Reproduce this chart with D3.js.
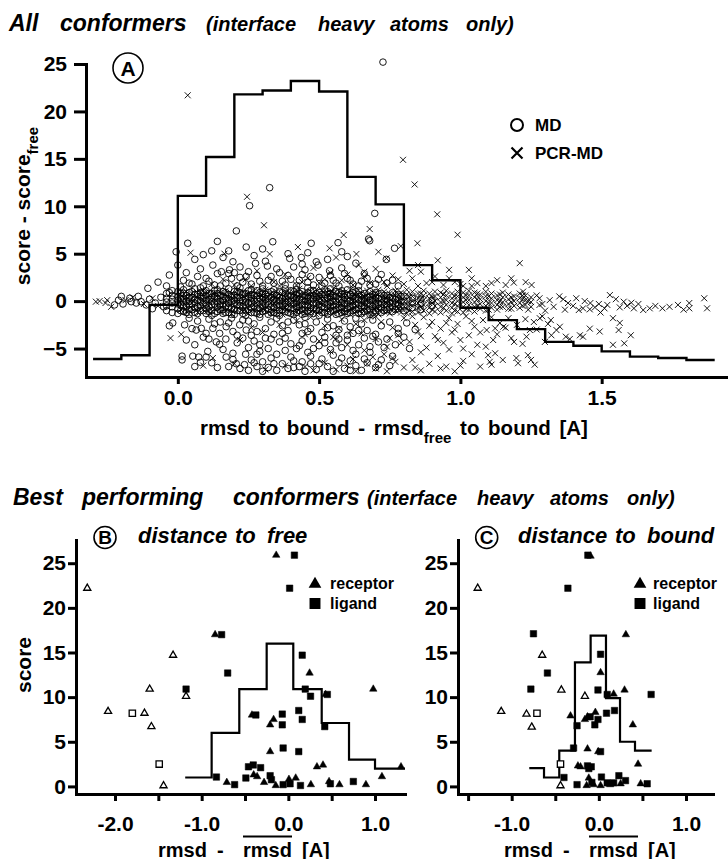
<!DOCTYPE html>
<html>
<head>
<meta charset="utf-8">
<script src="https://cdn.jsdelivr.net/npm/d3@7"></script>
<style>
  body { margin: 0; background: #fff; }
  svg { display: block; font-family: "Liberation Sans", Arial, Helvetica, sans-serif; font-weight: bold; }
  text { white-space: pre; }
</style>
</head>
<body>
<div class="container"></div>
<script>

// ---------- panel A : all conformers ----------
const xTicksA = [0, 0.5, 1.0, 1.5];
const yTicksA = [-5, 0, 5, 10, 15, 20, 25];

// histogram (step line) drawn on the score axis
const histAEdges = [-0.3,-0.2,-0.1,0.0,0.1,0.2,0.3,0.4,0.5,0.6,0.7,0.8,0.9,1.0,1.1,1.2,1.3,1.4,1.5,1.6,1.7,1.8,1.9];
const histAValues = [-6.1,-5.7,-0.4,11.1,15.2,21.8,22.2,23.2,22.1,13.1,10.2,3.8,2.2,-0.7,-2.0,-2.95,-4.3,-4.7,-5.3,-5.85,-6.0,-6.2];

// MD conformers, scattered points  [rmsd diff, score diff]
const mdScatter = [
  [0.726,25.2],[0.325,11.96],[0.254,10.06],[0.697,9.25],[0.207,7.4],[0.675,6.55],[0.035,6.1],[-0.006,5.2],
  [0.0,3.8],[-0.106,1.35],[-0.03,2.75],[0.124,3.8],[0.195,4.15],[0.154,3.1],[0.183,3.3],[0.242,2.6],
  [0.242,5.7],[0.336,6.26],[0.472,6.1],[0.567,6.16],[0.679,6.37],[0.767,5.57],[0.738,4.4],[0.275,3.98],
  [0.317,3.7],[0.396,4.5],[0.437,4.6],[0.537,3.2],[0.49,4.15],[0.496,3.8],
  [0.02,2.2],[0.05,1.8],[0.07,2.6],[0.09,1.6],[0.11,2.1],[0.13,1.7],[0.14,2.9],[0.17,1.9],[0.19,2.4],
  [0.21,1.6],[0.23,2.0],[0.26,1.8],[0.28,2.7],[0.30,1.6],[0.32,2.2],[0.34,1.9],[0.36,3.0],[0.38,1.7],
  [0.40,2.3],[0.42,1.6],[0.44,2.8],[0.46,2.0],[0.48,1.7],[0.50,2.5],[0.52,1.9],[0.55,2.2],[0.57,1.6],
  [0.60,2.4],[0.62,1.8],[0.65,2.1],[0.68,1.7],[0.71,2.3],[0.74,1.9],[0.78,1.6],[0.08,3.4],[0.16,4.6],
  [0.22,3.6],[0.27,4.8],[0.35,3.4],[0.41,3.6],[0.46,5.1],[0.53,4.4],[0.58,3.5],[0.63,4.0],[0.66,2.9],
  [0.12,5.3],[0.06,4.4],[0.30,5.5],[0.39,5.0],[0.58,5.2],[-0.04,1.6],[-0.07,2.0],[0.01,1.5],[0.03,3.0],
  [0.04,1.9],[0.10,2.4],[0.15,1.6],[0.18,2.9],[0.22,2.5],[0.25,3.1],[0.29,2.1],[0.33,2.6],[0.37,2.1],
  [0.39,2.7],[0.43,2.2],[0.45,3.3],[0.47,2.6],[0.51,1.6],[0.54,2.7],[0.56,1.9],[0.59,2.9],[0.61,2.2],
  [0.64,1.6],[0.67,2.4],[0.70,1.8],[0.72,2.8],[0.76,2.2],[0.18,5.3],[0.14,6.3],[0.09,4.9],[0.20,3.0],
  [0.31,4.2],[0.44,3.9],[0.60,4.7],
  // left tail
  [-0.224,-0.4],[-0.2,0.5],[-0.194,-0.3],[-0.165,-0.06],[-0.147,-0.2],[-0.13,-0.06],[-0.112,-0.4],[-0.10,0.2],
  [-0.08,-0.2],[-0.06,0.4],[-0.17,0.3],[-0.21,0.1],[-0.14,0.5],[-0.09,-0.8],[-0.05,-0.6],[-0.03,0.9],
  // below the band
  [-0.018,-2.3],[-0.03,-2.6],[0.024,-2.5],[0.065,-3.05],[0.083,-2.87],[0.1,-3.4],[0.124,-2.87],[0.148,-3.4],
  [0.171,-2.7],[0.195,-3.2],[0.219,-2.5],[0.242,-3.05],[0.04,-1.8],[0.07,-2.1],[0.11,-1.9],[0.15,-2.2],
  [0.19,-1.8],[0.23,-2.0],[0.27,-2.4],[0.29,-1.7],[0.31,-2.9],[0.33,-2.2],[0.35,-1.8],[0.37,-2.6],
  [0.39,-3.1],[0.41,-2.0],[0.43,-2.5],[0.45,-1.7],[0.47,-2.9],[0.49,-2.2],[0.51,-3.3],[0.53,-1.9],
  [0.55,-2.6],[0.57,-3.0],[0.59,-2.1],[0.61,-2.7],[0.63,-1.8],[0.65,-2.4],[0.67,-3.1],[0.69,-2.0],
  [0.72,-2.6],[0.75,-2.2],[0.78,-2.9],[0.81,-2.3],[0.26,-3.6],[0.28,-3.2],[0.34,-3.5],[0.44,-3.4],
  [0.56,-3.6],[0.62,-3.4],[0.70,-3.5],
  [0.148,-4.55],[0.136,-4.3],[0.195,-5.5],[0.106,-5.3],[0.17,-4.0],[0.21,-4.4],[0.23,-3.9],[0.25,-4.9],
  [0.27,-4.2],[0.29,-5.3],[0.38,-3.9],[0.40,-4.5],[0.42,-5.0],[0.44,-4.2],[0.46,-5.4],[0.48,-4.0],
  [0.50,-4.7],[0.52,-3.8],[0.54,-5.1],[0.56,-4.4],[0.58,-4.9],[0.60,-4.1],[0.62,-5.2],[0.64,-4.6],
  [0.66,-3.9],[0.68,-4.8],[0.71,-4.3],[0.74,-4.0],[0.77,-4.6],[0.80,-3.8],[0.33,-4.0],[0.35,-5.6],[0.31,-3.9],
  [0.015,-5.8],[0.015,-6.2],[0.053,-5.8],[0.074,-5.9],[0.08,-6.45],[0.171,-5.9],[0.195,-6.15],[0.207,-6.6],
  [0.236,-6.7],[0.22,-7.1],[0.25,-7.3],[0.26,-6.2],[0.28,-6.9],[0.30,-7.4],[0.30,-6.4],[0.32,-7.0],
  [0.33,-6.0],[0.35,-7.3],[0.37,-6.6],[0.39,-7.1],[0.41,-6.3],[0.43,-6.9],[0.45,-7.4],[0.47,-6.6],
  [0.49,-7.2],[0.51,-6.1],[0.53,-6.9],[0.55,-7.4],[0.57,-6.5],[0.59,-7.1],[0.61,-6.3],[0.63,-6.8],
  [0.65,-7.3],[0.67,-6.5],[0.70,-7.0],[0.72,-6.2],[0.75,-6.8],[0.47,-5.8],[0.40,-5.9],[0.28,-5.6],
  [0.12,-6.5],[0.14,-7.0],[0.10,-5.9],
  [0.03,-4.1],[0.06,-4.6],[0.09,-3.8],[0.05,-2.9],[0.13,-2.4],[0.16,-5.1],[0.18,-2.3],[0.21,-3.6],
  [0.24,-5.6],[0.25,-2.1],[0.27,-6.5],[0.29,-4.6],[0.32,-5.0],[0.34,-6.6],[0.36,-4.3],[0.37,-3.4],
  [0.38,-5.2],[0.41,-7.0],[0.43,-4.7],[0.44,-6.4],[0.46,-3.2],[0.48,-5.0],[0.50,-6.6],[0.52,-4.4],
  [0.53,-2.8],[0.55,-5.7],[0.57,-4.0],[0.58,-6.0],[0.60,-3.6],[0.61,-7.3],[0.63,-5.6],[0.64,-3.1],
  [0.66,-6.1],[0.68,-5.4],[0.69,-3.7],[0.71,-6.7],[0.73,-4.9],[0.76,-5.8],[0.78,-3.4],[0.82,-5.0],
  [0.84,-3.0],[0.18,-6.9],[0.06,-6.9],[0.11,-4.0],[0.39,-2.2],[0.45,-2.4]
];

// MD conformers, dense band around zero: [x, [y values]]
const mdCore = [
  [-0.04,[-1.0,-0.5,-0.1,0.3,0.8]],[-0.02,[-1.2,-0.6,-0.2,0.2,0.6,1.1]],[0.00,[-1.3,-0.8,-0.3,0.1,0.5,1.0]],
  [0.02,[-1.1,-0.6,-0.1,0.3,0.8,1.2]],[0.04,[-1.4,-0.9,-0.4,0.0,0.4,0.9]],[0.06,[-1.2,-0.7,-0.2,0.2,0.7,1.3]],
  [0.08,[-1.0,-0.5,0.0,0.5,0.9,1.4]],[0.10,[-1.3,-0.8,-0.3,0.1,0.6,1.1]],[0.12,[-1.5,-1.0,-0.4,0.0,0.4,0.8]],
  [0.14,[-1.1,-0.6,-0.1,0.3,0.8,1.2]],[0.16,[-1.3,-0.9,-0.4,0.1,0.5,1.0]],[0.18,[-1.2,-0.7,-0.2,0.2,0.7,1.3]],
  [0.20,[-1.4,-0.9,-0.3,0.1,0.6,1.0]],[0.22,[-1.0,-0.5,0.0,0.4,0.9,1.4]],[0.24,[-1.5,-1.0,-0.5,-0.1,0.3,0.8]],
  [0.26,[-1.2,-0.7,-0.2,0.3,0.7,1.2]],[0.28,[-1.3,-0.8,-0.3,0.2,0.6,1.1]],[0.30,[-1.1,-0.6,-0.1,0.4,0.8,1.3]],
  [0.32,[-1.4,-0.9,-0.4,0.0,0.5,0.9]],[0.34,[-1.2,-0.7,-0.2,0.2,0.7,1.2]],[0.36,[-1.5,-1.0,-0.5,0.0,0.4,1.0]],
  [0.38,[-1.1,-0.6,-0.1,0.3,0.8,1.3]],[0.40,[-1.3,-0.8,-0.3,0.1,0.6,1.1]],[0.42,[-1.2,-0.6,-0.2,0.3,0.7,1.2]],
  [0.44,[-1.4,-0.9,-0.4,0.1,0.5,1.0]],[0.46,[-1.0,-0.5,0.0,0.4,0.9,1.4]],[0.48,[-1.3,-0.8,-0.3,0.2,0.6,1.1]],
  [0.50,[-1.5,-1.0,-0.4,0.0,0.5,0.9]],[0.52,[-1.2,-0.7,-0.2,0.3,0.7,1.2]],[0.54,[-1.1,-0.6,-0.1,0.4,0.8,1.3]],
  [0.56,[-1.4,-0.9,-0.4,0.0,0.5,1.0]],[0.58,[-1.2,-0.7,-0.2,0.2,0.7,1.1]],[0.60,[-1.3,-0.8,-0.3,0.1,0.6,1.2]],
  [0.62,[-1.0,-0.5,0.0,0.5,0.9]],[0.64,[-1.3,-0.8,-0.3,0.2,0.7,1.1]],[0.66,[-1.1,-0.6,-0.1,0.3,0.8]],
  [0.68,[-1.4,-0.9,-0.4,0.1,0.5,1.0]],[0.70,[-1.0,-0.5,0.0,0.4,0.9]],[0.72,[-1.2,-0.7,-0.2,0.3,0.8]],
  [0.74,[-0.9,-0.4,0.1,0.6]],[0.76,[-1.1,-0.6,-0.1,0.4,0.9]],[0.78,[-0.8,-0.3,0.2,0.7]],
  [0.80,[-1.0,-0.5,0.0,0.5]],[0.83,[-0.7,-0.2,0.3]],[0.86,[-0.9,-0.3,0.2]],[0.90,[-0.5,0.1]],
  [0.01,[-1.0,-0.4,0.3,0.8]],[0.03,[-1.2,-0.5,0.0,0.6]],[0.05,[-0.9,-0.3,0.4,1.0]],[0.07,[-1.3,-0.6,0.1,0.7]],
  [0.09,[-1.0,-0.2,0.3,0.9]],[0.11,[-1.1,-0.6,0.2,0.8]],[0.13,[-1.3,-0.3,0.5,1.1]],[0.15,[-0.9,-0.4,0.0,0.6]],
  [0.17,[-1.2,-0.5,0.3,0.9]],[0.19,[-1.4,-0.7,0.0,0.5]],[0.21,[-1.0,-0.4,0.4,1.0]],[0.23,[-1.3,-0.6,0.1,0.7]],
  [0.25,[-0.9,-0.2,0.5,1.1]],[0.27,[-1.2,-0.5,0.0,0.6]],[0.29,[-1.4,-0.7,0.3,0.9]],[0.31,[-1.0,-0.3,0.2,0.7]],
  [0.33,[-1.2,-0.6,0.4,1.0]],[0.35,[-1.3,-0.4,0.1,0.6]],[0.37,[-0.9,-0.5,0.3,0.9]],[0.39,[-1.2,-0.7,0.0,0.5]],
  [0.41,[-1.4,-0.3,0.4,1.0]],[0.43,[-1.0,-0.6,0.2,0.8]],[0.45,[-1.3,-0.4,0.0,0.6]],[0.47,[-1.1,-0.7,0.3,1.1]],
  [0.49,[-0.9,-0.2,0.4,0.8]],[0.51,[-1.2,-0.6,0.1,0.7]],[0.53,[-1.4,-0.4,0.3,1.0]],[0.55,[-1.0,-0.5,0.0,0.6]],
  [0.57,[-1.3,-0.7,0.2,0.9]],[0.59,[-1.1,-0.3,0.4,0.8]],[0.61,[-1.2,-0.6,0.0,0.7]],[0.63,[-0.9,-0.4,0.3,1.0]],
  [0.65,[-1.3,-0.5,0.1,0.6]],[0.67,[-1.0,-0.2,0.4]],[0.69,[-1.2,-0.6,0.2,0.7]],[0.71,[-0.8,-0.3,0.3]],
  [0.73,[-1.0,-0.4,0.1,0.6]],[0.75,[-0.7,-0.2,0.4]],[0.77,[-0.9,-0.3,0.2]],[0.79,[-0.6,0.0,0.5]]
];

// PCR-MD conformers, scattered points
const pcrScatter = [
  [0.035,21.7],[0.797,14.9],[0.838,12.3],[0.918,9.15],[0.99,7.0],[0.245,11.0],[0.305,8.0],[0.679,7.6],
  [0.587,6.97],[0.848,6.1],[0.789,5.8],[0.85,3.8],[0.86,3.1],[0.96,3.3],[1.03,3.3],[1.04,2.4],[1.21,4.0],
  [1.189,1.95],[1.231,2.0],[1.252,1.7],[1.222,1.0],[0.425,5.7],[0.325,4.97],[0.537,5.57],[0.632,4.97],
  [0.738,4.5],[0.045,5.1],[0.165,5.0],
  [0.34,2.0],[0.38,2.8],[0.42,1.7],[0.46,2.4],[0.50,1.9],[0.54,3.0],[0.58,2.2],[0.62,1.7],[0.66,2.6],
  [0.70,3.4],[0.73,2.0],[0.76,2.7],[0.80,1.8],[0.83,2.4],[0.88,1.9],[0.91,2.6],[0.94,1.7],[0.98,2.0],
  [1.01,1.6],[1.06,1.9],[1.09,1.6],[1.13,2.2],[1.16,1.7],[0.20,1.7],[0.24,2.3],[0.12,1.8],[0.28,3.2],
  [0.48,3.5],[0.64,3.8],[0.92,4.3],[0.71,5.2],[0.56,4.6],
  [0.36,1.6],[0.44,2.0],[0.52,2.3],[0.60,2.8],[0.68,1.9],[0.74,1.6],[0.78,2.3],[0.85,1.6],[0.90,2.0],
  [0.96,2.4],[1.00,1.8],[1.04,1.6],[1.11,1.9],[1.18,2.4],[0.82,3.2],[0.66,3.1],[0.26,1.6],[0.16,2.3],
  // tails along zero
  [-0.29,-0.06],[-0.277,0.0],[-0.256,-0.2],[-0.25,0.1],[-0.236,-0.6],[-0.185,0.1],[-0.16,0.4],[-0.12,-0.3],
  [-0.09,0.3],[-0.07,-0.5],
  [1.316,0.1],[1.364,0.2],[1.381,-0.2],[1.399,-0.5],[1.419,-0.94],[1.434,-0.76],[1.458,-0.87],[1.476,-0.66],
  [1.496,-1.2],[1.51,-0.76],[1.529,0.64],[1.564,-0.66],[1.578,-0.06],[1.605,-0.17],[1.614,-0.76],[1.647,-0.94],
  [1.67,-0.76],[1.715,-0.76],[1.77,-0.4],[1.81,-0.2],[1.81,-0.76],[1.863,0.3],[1.873,-0.76],[1.29,-0.3],
  [1.33,-0.6],[1.35,0.5],[1.41,0.3],[1.44,0.0],[1.49,-0.3],[1.55,0.2],[1.59,-0.5],[1.63,-0.3],[1.69,-0.5],
  [1.74,-0.6],[1.79,-0.9],[1.27,0.6],[1.30,-1.0],[1.37,-0.9],[1.46,-0.2],[1.52,-0.4],
  // below the band
  [-0.026,-3.9],[0.012,-3.5],[0.09,-6.8],[0.124,-6.0],
  [0.42,-2.1],[0.47,-1.7],[0.52,-2.6],[0.58,-1.9],[0.63,-2.4],[0.68,-1.6],[0.72,-2.2],[0.76,-2.8],
  [0.80,-1.8],[0.84,-2.5],[0.87,-1.7],[0.90,-2.2],[0.93,-2.9],[0.96,-1.8],[0.99,-2.4],[1.02,-1.6],
  [1.05,-2.7],[1.08,-2.0],[1.11,-1.7],[1.14,-2.3],[1.17,-1.8],[1.20,-2.5],[1.23,-1.9],[1.26,-2.2],
  [1.29,-1.6],[1.32,-2.0],[1.093,-3.05],[1.123,-2.87],[1.152,-2.7],[1.281,-1.8],[1.352,-2.7],[1.34,-3.05],
  [1.458,-2.9],[1.54,-1.8],[1.564,-2.3],[1.56,-3.05],
  [0.45,-3.5],[0.50,-4.2],[0.55,-3.8],[0.60,-4.6],[0.65,-3.4],[0.70,-4.0],[0.74,-4.8],[0.78,-3.6],
  [0.82,-4.3],[0.85,-3.2],[0.88,-4.9],[0.91,-3.7],[0.94,-4.4],[0.97,-3.3],[1.00,-4.1],[1.03,-3.6],
  [1.06,-4.6],[1.116,-4.1],[1.09,-4.8],[1.18,-3.9],[1.22,-4.5],[1.234,-3.75],[1.246,-3.05],[1.299,-4.3],
  [1.322,-3.6],[1.373,-3.75],[1.387,-4.0],[1.423,-3.6],[1.434,-3.75],[1.493,-3.2],[1.603,-3.6],[1.58,-4.45],
  [1.54,-4.6],[0.30,-3.3],[0.22,-4.1],
  [0.45,-6.9],[0.48,-7.3],[0.52,-6.5],[0.56,-7.2],[0.60,-6.8],[0.63,-7.4],[0.67,-6.6],[0.70,-7.1],
  [0.74,-7.4],[0.77,-6.4],[0.80,-7.0],[0.83,-6.2],[0.86,-7.3],[0.89,-6.6],[0.92,-5.8],[0.95,-6.9],
  [0.98,-7.4],[1.01,-6.3],[1.04,-5.6],[1.07,-6.9],[1.098,-5.7],[1.104,-6.4],[1.123,-5.5],[1.11,-6.7],
  [1.198,-6.0],[1.204,-6.55],[1.239,-5.7],[1.25,-6.2],[1.263,-6.7],[0.73,-5.6],[0.66,-5.2],[0.86,-5.4],
  [0.96,-5.1],[0.20,-6.6],[0.31,-7.2],[0.38,-6.8],
  [0.57,-2.9],[0.61,-3.2],[0.66,-2.0],[0.70,-1.6],[0.75,-3.9],[0.79,-4.4],[0.83,-1.6],[0.86,-3.7],
  [0.89,-2.6],[0.92,-4.1],[0.95,-2.3],[0.98,-3.0],[1.01,-5.0],[1.04,-2.1],[1.07,-3.3],[1.13,-3.5],
  [1.16,-2.8],[1.19,-4.3],[1.27,-3.0],[1.31,-2.4],[0.62,-6.1],[0.69,-5.9],[0.76,-6.0],[0.84,-7.0],
  [0.93,-7.1],[1.00,-6.8],[1.15,-6.2],[0.54,-5.3],[0.36,-2.5],[0.26,-2.8]
];

// PCR-MD conformers, dense band around zero
const pcrCore = [
  [0.01,[-0.9,-0.3,0.2,0.7]],[0.03,[-1.1,-0.5,0.0,0.5,1.0]],[0.05,[-0.8,-0.2,0.3,0.8]],
  [0.07,[-1.2,-0.6,-0.1,0.4,0.9]],[0.09,[-0.9,-0.4,0.1,0.6,1.1]],[0.11,[-1.1,-0.5,0.0,0.5,1.0]],
  [0.13,[-0.8,-0.2,0.3,0.8]],[0.15,[-1.2,-0.7,-0.1,0.4,0.9]],[0.17,[-1.0,-0.4,0.1,0.6,1.1]],
  [0.19,[-1.3,-0.7,-0.2,0.3,0.8]],[0.21,[-0.9,-0.3,0.2,0.7,1.2]],[0.23,[-1.1,-0.6,0.0,0.5,1.0]],
  [0.25,[-1.3,-0.8,-0.2,0.3,0.8]],[0.27,[-1.0,-0.4,0.1,0.6,1.1]],[0.29,[-1.2,-0.6,-0.1,0.4,0.9]],
  [0.31,[-0.9,-0.3,0.2,0.7,1.2]],[0.33,[-1.3,-0.7,-0.2,0.3,0.8]],[0.35,[-1.1,-0.5,0.0,0.5,1.0]],
  [0.37,[-1.4,-0.8,-0.3,0.2,0.7]],[0.39,[-1.0,-0.4,0.1,0.6,1.1]],[0.41,[-1.2,-0.6,-0.1,0.4,0.9]],
  [0.43,[-0.9,-0.3,0.2,0.7,1.3]],[0.45,[-1.3,-0.8,-0.2,0.3,0.8]],[0.47,[-1.1,-0.5,0.0,0.5,1.0]],
  [0.49,[-1.4,-0.9,-0.3,0.2,0.7,1.2]],[0.51,[-1.0,-0.4,0.1,0.6,1.1]],[0.53,[-1.2,-0.7,-0.1,0.4,0.9]],
  [0.55,[-1.3,-0.8,-0.2,0.3,0.8,1.3]],[0.57,[-1.0,-0.5,0.0,0.5,1.0]],[0.59,[-1.2,-0.6,-0.1,0.4,0.9]],
  [0.61,[-1.4,-0.9,-0.3,0.2,0.7,1.2]],[0.63,[-1.1,-0.5,0.0,0.5,1.0]],[0.65,[-1.3,-0.7,-0.2,0.3,0.8]],
  [0.67,[-1.0,-0.4,0.1,0.6,1.1]],[0.69,[-1.2,-0.6,-0.1,0.4,0.9]],[0.71,[-1.4,-0.8,-0.3,0.2,0.7,1.2]],
  [0.73,[-1.1,-0.5,0.0,0.5,1.0]],[0.75,[-1.3,-0.7,-0.2,0.3,0.8]],[0.77,[-1.0,-0.4,0.1,0.6,1.1]],
  [0.79,[-1.2,-0.6,-0.1,0.4,0.9]],[0.81,[-1.3,-0.8,-0.3,0.2,0.7,1.2]],[0.83,[-1.1,-0.5,0.0,0.5,1.0]],
  [0.85,[-1.2,-0.7,-0.2,0.3,0.8]],[0.87,[-1.0,-0.4,0.1,0.6,1.1]],[0.89,[-1.3,-0.7,-0.2,0.3,0.8]],
  [0.91,[-1.1,-0.5,0.0,0.5,1.0]],[0.93,[-1.2,-0.6,-0.1,0.4,0.9]],[0.95,[-1.0,-0.4,0.1,0.6,1.1]],
  [0.97,[-1.3,-0.7,-0.2,0.3,0.8]],[0.99,[-1.1,-0.5,0.0,0.5,1.0]],[1.01,[-1.2,-0.6,-0.1,0.4,0.9]],
  [1.03,[-0.9,-0.4,0.1,0.6,1.1]],[1.05,[-1.1,-0.6,-0.1,0.4,0.9]],[1.07,[-0.8,-0.3,0.2,0.7]],
  [1.09,[-1.0,-0.5,0.0,0.5,1.0]],[1.11,[-0.7,-0.2,0.3,0.8]],[1.13,[-0.9,-0.4,0.1,0.6]],
  [1.15,[-0.6,-0.1,0.4,0.9]],[1.17,[-0.8,-0.3,0.2,0.7]],[1.19,[-0.5,0.0,0.5]],
  [1.21,[-0.7,-0.2,0.3,0.8]],[1.23,[-0.4,0.1,0.6]],[1.25,[-0.6,-0.1,0.4]],
  [0.30,[-0.8,0.0,0.6]],[0.34,[-1.0,-0.2,0.5]],[0.38,[-0.7,0.1,0.8]],[0.42,[-1.1,-0.3,0.4]],
  [0.46,[-0.8,0.0,0.7]],[0.50,[-1.0,-0.2,0.5]],[0.54,[-0.6,0.2,0.9]],[0.58,[-1.1,-0.4,0.3]],
  [0.62,[-0.8,0.0,0.6]],[0.66,[-1.0,-0.3,0.5]],[0.70,[-0.7,0.1,0.8]],[0.74,[-1.1,-0.2,0.4]],
  [0.78,[-0.8,0.0,0.7]],[0.82,[-1.0,-0.3,0.5]],[0.86,[-0.6,0.2,0.8]],[0.90,[-0.9,-0.2,0.4]],
  [0.94,[-0.7,0.0,0.7]],[0.98,[-1.0,-0.3,0.5]],[1.02,[-0.8,0.1,0.6]],[1.06,[-0.5,0.2,0.8]],
  [1.10,[-0.9,-0.2,0.5]],[1.14,[-0.6,0.0,0.7]],[1.18,[-0.8,-0.1,0.4]],[1.22,[-0.5,0.2,0.6]],
  [1.24,[-0.9,0.0]],[1.28,[-0.4,0.3]]
];

// ---------- panels B and C : best performing conformers ----------
const yTicksBC = [0, 5, 10, 15, 20, 25];
const xTicksB = [-2.0, -1.5, -1.0, -0.5, 0, 0.5, 1.0];
const xTicksC = [-1.5, -1.0, -0.5, 0, 0.5, 1.0];

const histBEdges = [-1.19,-0.885,-0.566,-0.25,0.057,0.385,0.70,1.0,1.346];
const histBValues = [1.0,6.0,10.9,16.0,10.9,7.1,3.0,2.0];
const histCEdges = [-0.798,-0.629,-0.454,-0.274,-0.094,0.082,0.243,0.415,0.606];
const histCValues = [2.05,1.0,4.0,13.9,16.9,9.9,5.0,4.0];

// B : distance to free
const bReceptor = [[-0.14,25.9],[-0.845,17.0],[0.245,12.7],[0.98,10.9],[0.43,10.3],[-0.42,8.0],[-0.21,6.9],
  [-0.17,7.5],[-0.21,3.9],[-0.40,1.3],[-0.36,1.1],[-0.71,0.45],[-0.28,0.45],[-0.145,0.1],[0.007,0.8],
  [0.085,0.94],[0.26,0.2],[0.33,2.2],[0.40,2.4],[0.47,0.55],[0.59,0.2],[0.895,0.2],[1.30,2.2],[1.08,1.1]];
const bLigand = [[0.07,25.9],[0.015,22.2],[-0.77,17.0],[0.16,14.7],[-0.70,12.7],[-1.18,10.9],[0.195,10.9],
  [0.256,10.1],[0.45,10.3],[-0.375,8.0],[-0.07,8.1],[-0.07,6.9],[0.12,8.5],[0.16,7.5],[0.42,6.7],[-0.06,4.3],
  [0.12,3.9],[-0.83,1.05],[-0.62,0.2],[-0.46,2.2],[-0.405,2.4],[-0.32,2.1],[-0.49,0.94],[-0.21,1.2],
  [-0.195,0.75],[-0.06,0.2],[0.02,0.3],[0.14,0.1],[0.485,0.3],[0.75,0.55]];
const bReceptorOpen = [[-2.32,22.2],[-1.33,14.7],[-1.60,10.9],[-1.18,10.1],[-2.08,8.4],[-1.66,8.2],[-1.58,6.7],[-1.44,0.08]];
const bLigandOpen = [[-1.80,8.2],[-1.49,2.5]];

// C : distance to bound
const cReceptor = [[-0.095,25.8],[0.31,17.0],[0.02,12.75],[0.17,10.35],[0.295,10.8],[-0.325,7.9],[-0.16,7.5],
  [-0.13,7.8],[-0.04,8.3],[0.39,6.9],[-0.13,4.2],[-0.007,3.9],[-0.24,2.3],[-0.21,2.2],[0.45,2.5],[-0.115,0.94],
  [-0.14,0.1],[-0.06,0.2],[0.02,0.1],[0.13,0.2],[0.25,0.3],[0.48,0.3]];
const cLigand = [[-0.126,25.9],[-0.355,22.2],[-0.75,17.1],[0.02,14.8],[-0.59,12.7],[-0.78,10.9],[-0.01,10.8],
  [0.096,10.3],[0.60,10.3],[-0.25,6.8],[-0.10,7.8],[-0.01,7.5],[-0.046,6.9],[0.088,8.2],[0.18,8.5],[-0.29,4.3],
  [0.02,3.9],[-0.13,2.3],[-0.087,2.2],[-0.115,2.0],[-0.40,1.0],[-0.25,0.2],[0.03,1.05],[-0.08,0.45],
  [0.096,0.4],[0.23,1.2],[0.306,0.65],[0.17,0.4],[0.555,0.3]];
const cReceptorOpen = [[-1.39,22.2],[-0.65,14.7],[-0.43,10.8],[-0.16,10.1],[-1.12,8.4],[-0.83,8.1],[-0.77,6.65],[-0.44,0.08]];
const cLigandOpen = [[-0.71,8.2],[-0.44,2.5]];


const width = 728;
const height = 859;

const svg = d3.select(".container").append("svg")
    .attr("width", width)
    .attr("height", height);

const xA = d3.scaleLinear().domain([-0.325, 1.94]).range([86, 726]);
const yA = d3.scaleLinear().domain([-8, 25]).range([377, 64]);
const xB = d3.scaleLinear().domain([-2.45, 1.346]).range([76, 405]);
const xC = d3.scaleLinear().domain([-1.616, 1.31]).range([458, 713]);
const yBC = d3.scaleLinear().domain([-0.85, 27.6]).range([794, 540]);

function styleAxis(g) {
    g.attr("font-family", null).attr("font-size", null);
    g.select(".domain").attr("stroke-width", 3).attr("stroke-linecap", "square");
    g.selectAll(".tick line").attr("stroke-width", 3);
    g.selectAll(".tick text").attr("font-size", 21).attr("font-weight", "bold").attr("fill", "#000");
}

function stepPoints(edges, vals) {
    const pts = vals.map((v, i) => [edges[i], v]);
    pts.push([edges[edges.length - 1], vals[vals.length - 1]]);
    return pts;
}

function drawStep(x, y, edges, vals, w) {
    const line = d3.line().x(d => x(d[0])).y(d => y(d[1])).curve(d3.curveStepAfter);
    svg.append("path")
        .attr("d", line(stepPoints(edges, vals)))
        .attr("fill", "none")
        .attr("stroke", "#000")
        .attr("stroke-width", w);
}

function words(list, y, size) {
    list.forEach(([t, x]) => {
        svg.append("text")
            .attr("x", x).attr("y", y)
            .attr("font-size", size)
            .attr("font-style", "italic")
            .text(t);
    });
}

function panelLetter(cx, cy, r, letter, size) {
    svg.append("circle").attr("cx", cx).attr("cy", cy).attr("r", r)
        .attr("fill", "none").attr("stroke", "#000").attr("stroke-width", 1.6);
    svg.append("text").attr("x", cx).attr("y", cy + size * 0.36)
        .attr("text-anchor", "middle").attr("font-size", size).text(letter);
}

// ---------- titles ----------
words([["All", 9], ["conformers", 60]], 31, 23);
words([["(interface", 206], ["heavy", 318], ["atoms", 390], ["only)", 466]], 31, 20);
words([["Best", 13], ["performing", 82], ["conformers", 233]], 505, 23);
words([["(interface", 367], ["heavy", 477], ["atoms", 550], ["only)", 627]], 505, 20);

// ---------- panel A ----------
const mdAll = mdScatter.concat(mdCore.flatMap(([x, ys]) => ys.map(y => [x, y])));
const pcrAll = pcrScatter.concat(pcrCore.flatMap(([x, ys]) => ys.map(y => [x, y])));

svg.append("g").selectAll("circle")
    .data(mdAll)
    .join("circle")
    .attr("cx", d => xA(d[0]))
    .attr("cy", d => yA(d[1]))
    .attr("r", 3.3)
    .attr("fill", "none")
    .attr("stroke", "#000")
    .attr("stroke-width", 0.9);

svg.append("g").selectAll("path")
    .data(pcrAll)
    .join("path")
    .attr("d", "M-3,-3L3,3M-3,3L3,-3")
    .attr("transform", d => `translate(${xA(d[0])},${yA(d[1])})`)
    .attr("stroke", "#000")
    .attr("stroke-width", 0.9);

drawStep(xA, yA, histAEdges, histAValues, 2.4);

svg.append("g")
    .attr("transform", "translate(0,377)")
    .call(d3.axisBottom(xA).tickValues(xTicksA).tickFormat(d => d.toFixed(1)).tickSize(7).tickPadding(6).tickSizeOuter(0))
    .call(styleAxis);

svg.append("g")
    .attr("transform", "translate(86,0)")
    .call(d3.axisLeft(yA).tickValues(yTicksA).tickSize(12).tickPadding(7).tickSizeOuter(0))
    .call(styleAxis);

panelLetter(128, 68, 15, "A", 21);

// legend A
svg.append("circle").attr("cx", 517).attr("cy", 125).attr("r", 6)
    .attr("fill", "none").attr("stroke", "#000").attr("stroke-width", 2);
svg.append("text").attr("x", 535).attr("y", 131).attr("font-size", 17).text("MD");
svg.append("path").attr("d", "M-5.5,-5.5L5.5,5.5M-5.5,5.5L5.5,-5.5")
    .attr("transform", "translate(517,153)").attr("stroke", "#000").attr("stroke-width", 2.2);
svg.append("text").attr("x", 535).attr("y", 159).attr("font-size", 17).text("PCR-MD");

// axis titles A
const yTitleA = svg.append("text")
    .attr("transform", "translate(30,206) rotate(-90)")
    .attr("text-anchor", "middle")
    .attr("font-size", 21);
yTitleA.append("tspan").text("score - score");
yTitleA.append("tspan").attr("dy", 8).attr("font-size", 15).text("free");

const xTitleA = svg.append("text")
    .attr("x", 200).attr("y", 435)
    .attr("font-size", 20.5)
    .style("word-spacing", "3px");
xTitleA.append("tspan").text("rmsd to bound - rmsd");
xTitleA.append("tspan").attr("dy", 8).attr("font-size", 15).text("free");
xTitleA.append("tspan").attr("dy", -8).text(" to bound [A]");

// ---------- panels B and C ----------
const triSmall = d3.symbol(d3.symbolTriangle, 24)();
const sqSmall = d3.symbol(d3.symbolSquare, 42)();
const triOpen = d3.symbol(d3.symbolTriangle, 22)();
const sqOpen = d3.symbol(d3.symbolSquare, 40)();

function drawMarks(x, y, data, shape, open) {
    svg.append("g").selectAll("path")
        .data(data)
        .join("path")
        .attr("d", shape)
        .attr("transform", d => `translate(${x(d[0])},${y(d[1])})`)
        .attr("fill", open ? "#fff" : "#000")
        .attr("stroke", "#000")
        .attr("stroke-width", open ? 1.3 : 0.5);
}

function drawPanel(x, xTicks, left, edges, vals, rec, lig, recOpen, ligOpen) {
    drawStep(x, yBC, edges, vals, 2.2);
    drawMarks(x, yBC, recOpen, triOpen, true);
    drawMarks(x, yBC, ligOpen, sqOpen, true);
    drawMarks(x, yBC, rec, triSmall, false);
    drawMarks(x, yBC, lig, sqSmall, false);

    svg.append("g")
        .attr("transform", "translate(0,794)")
        .call(d3.axisBottom(x).tickValues(xTicks)
            .tickFormat(d => Number.isInteger(d) ? d.toFixed(1) : "")
            .tickSize(7).tickPadding(15).tickSizeOuter(0))
        .call(styleAxis);

    svg.append("g")
        .attr("transform", `translate(${left},0)`)
        .call(d3.axisLeft(yBC).tickValues(yTicksBC).tickSize(8).tickPadding(2).tickSizeOuter(0))
        .call(styleAxis);
}

drawPanel(xB, xTicksB, 76, histBEdges, histBValues, bReceptor, bLigand, bReceptorOpen, bLigandOpen);
drawPanel(xC, xTicksC, 458, histCEdges, histCValues, cReceptor, cLigand, cReceptorOpen, cLigandOpen);

panelLetter(105, 537.5, 11, "B", 19);
panelLetter(486.7, 537.5, 11, "C", 19);
words([["distance", 138], ["to", 235], ["free", 267]], 543, 22);
words([["distance", 518], ["to", 615], ["bound", 647]], 543, 22);

// legends B, C
[[315, 330], [640, 653]].forEach(([mx, tx]) => {
    svg.append("path").attr("d", d3.symbol(d3.symbolTriangle, 70)())
        .attr("transform", `translate(${mx},${584})`).attr("fill", "#000");
    svg.append("text").attr("x", tx).attr("y", 589).attr("font-size", 16).text("receptor");
    svg.append("path").attr("d", d3.symbol(d3.symbolSquare, 120)())
        .attr("transform", `translate(${mx},${603.5})`).attr("fill", "#000");
    svg.append("text").attr("x", tx).attr("y", 609).attr("font-size", 16).text("ligand");
});

// y title B
svg.append("text")
    .attr("transform", "translate(30.5,665) rotate(-90)")
    .attr("text-anchor", "middle")
    .attr("font-size", 21)
    .text("score");

// x titles B, C : rmsd - mean rmsd [A]
[158, 504].forEach(x0 => {
    const t = svg.append("text").attr("y", 856.5).attr("font-size", 20);
    t.append("tspan").attr("x", x0).text("rmsd");
    t.append("tspan").attr("x", x0 + 59).text("-");
    t.append("tspan").attr("x", x0 + 85).text("rmsd");
    t.append("tspan").attr("x", x0 + 144).text("[A]");
    svg.append("line")
        .attr("x1", x0 + 85).attr("x2", x0 + 134)
        .attr("y1", 836.5).attr("y2", 836.5)
        .attr("stroke", "#000").attr("stroke-width", 2);
});

</script>
</body>
</html>
